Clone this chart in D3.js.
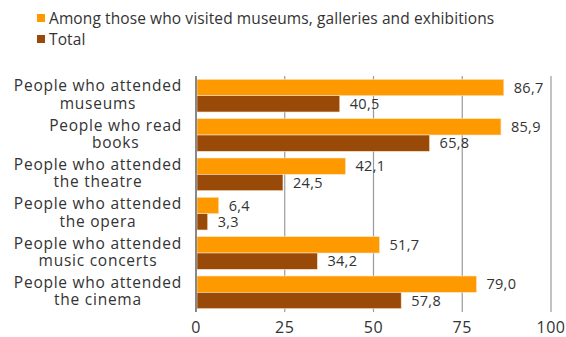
<!DOCTYPE html>
<html>
<head>
<meta charset="utf-8">
<script src="https://cdn.jsdelivr.net/npm/d3@7"></script>
<style>
  body { margin: 0; background: #fff; }
  text { font-family: "Open Sans", Lato, sans-serif; fill: #333; }
</style>
</head>
<body>
<div id="chart"></div>
<script>
(function() {
  var categories = [
    ["People who attended", "museums"],
    ["People who read", "books"],
    ["People who attended", "the theatre"],
    ["People who attended", "the opera"],
    ["People who attended", "music concerts"],
    ["People who attended", "the cinema"]
  ];
  var visitors = [86.7, 85.9, 42.1, 6.4, 51.7, 79.0];
  var total = [40.5, 65.8, 24.5, 3.3, 34.2, 57.8];
  var seriesNames = ["Among those who visited museums, galleries and exhibitions", "Total"];
  var colors = ["#ff9900", "#9a4a08"];
  var ticks = [0, 25, 50, 75, 100];

  var width = 566, height = 337;
  var margin = { top: 76, left: 196, right: 15, bottom: 25 };

  var svg = d3.select("#chart")
    .append("svg")
    .attr("width", width)
    .attr("height", height);

  var x = d3.scaleLinear().domain([0, 100]).range([margin.left, 551]);
  var y = d3.scaleBand().domain(d3.range(categories.length))
    .range([margin.top, 312]).paddingInner(0.17).paddingOuter(0.085);

  // gridlines
  svg.selectAll(".grid")
    .data(ticks.slice(1))
    .enter().append("line")
    .attr("x1", function(d) { return x(d); })
    .attr("x2", function(d) { return x(d); })
    .attr("y1", margin.top)
    .attr("y2", 312)
    .attr("stroke", "#9a9a9a")
    .attr("stroke-width", 1.2);

  var half = y.bandwidth() / 2;
  var series = [visitors, total];

  series.forEach(function(vals, si) {
    svg.selectAll(".bar" + si)
      .data(vals)
      .enter().append("rect")
      .attr("x", x(0) + 1)
      .attr("y", function(d, i) { return y(i) + si * half; })
      .attr("width", function(d) { return x(d) - x(0) - 1; })
      .attr("height", half)
      .attr("fill", colors[si])
      .attr("stroke", "#fbe3c4")
      .attr("stroke-width", 0.6);

    svg.selectAll(".val" + si)
      .data(vals)
      .enter().append("text")
      .attr("x", function(d) { return x(d) + 10; })
      .attr("y", function(d, i) { return y(i) + si * half + half / 2; })
      .attr("dy", "0.36em")
      .style("font-size", "14.5px")
      .style("letter-spacing", "0.3px")
      .text(function(d) { return d.toFixed(1).replace(".", ","); });
  });

  // axis line at zero
  svg.append("line")
    .attr("x1", x(0)).attr("x2", x(0))
    .attr("y1", margin.top).attr("y2", 312)
    .attr("stroke", "#888").attr("stroke-width", 2);

  // category labels: two lines centred on each other, block right-aligned at 182
  categories.forEach(function(lines, i) {
    var cy = y(i) + y.bandwidth() / 2;
    var t = lines.map(function(s, k) {
      return svg.append("text")
        .attr("class", "cat")
        .attr("y", cy + (k === 0 ? -4.5 : 13))
        .style("font-size", "15.5px")
        .style("letter-spacing", "0.75px")
        .text(s);
    });
    var lens = t.map(function(s) { return s.node().getComputedTextLength(); });
    var w = d3.max(lens);
    t.forEach(function(s, k) { s.attr("x", 182 - w / 2 - lens[k] / 2); });
  });

  // tick labels
  svg.selectAll(".tick-label")
    .data(ticks)
    .enter().append("text")
    .attr("x", function(d) { return x(d); })
    .attr("y", 333)
    .attr("text-anchor", "middle")
    .style("font-size", "16px")
    .style("letter-spacing", "0.5px")
    .text(function(d) { return d; });

  // legend
  var legend = svg.selectAll(".legend")
    .data(seriesNames)
    .enter().append("g")
    .attr("transform", function(d, i) { return "translate(37," + (14 + i * 21) + ")"; });
  legend.append("rect").attr("width", 8).attr("height", 8)
    .attr("fill", function(d, i) { return colors[i]; });
  legend.append("text").attr("x", 12).attr("y", 4).attr("dy", "0.36em")
    .style("font-size", "15.5px")
    .style("letter-spacing", "0.1px")
    .text(function(d) { return d; });
})();
</script>
</body>
</html>
